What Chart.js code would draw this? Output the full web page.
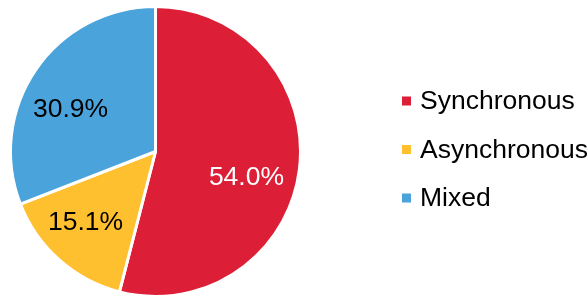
<!DOCTYPE html>
<html>
<head>
<meta charset="utf-8">
<script src="https://cdn.jsdelivr.net/npm/chart.js@4.4.1/dist/chart.umd.min.js"></script>
<style>
  html, body { margin: 0; padding: 0; background: #ffffff; }
  #wrap { width: 588px; height: 298px; position: relative; }
</style>
</head>
<body>
<div id="wrap"><canvas id="c" width="588" height="298"></canvas></div>
<script>
const categories = ['Synchronous', 'Asynchronous', 'Mixed'];
const shares = [54.0, 15.1, 30.9];
const sliceColors = ['#DC1F37', '#FEC02F', '#4BA3DB'];
const labelColors = ['#ffffff', '#000000', '#000000'];

const FONT = '"Liberation Sans", Arial, sans-serif';
const FS = 26.5;

const sliceLabels = {
  id: 'sliceLabels',
  afterDatasetsDraw(chart, args, opts) {
    const ctx = chart.ctx;
    const meta = chart.getDatasetMeta(0);
    ctx.save();
    ctx.font = FS + 'px ' + FONT;
    ctx.textAlign = 'center';
    ctx.textBaseline = 'alphabetic';
    meta.data.forEach((arc, i) => {
      const p = arc.getProps(['x', 'y', 'startAngle', 'endAngle', 'outerRadius'], true);
      const mid = (p.startAngle + p.endAngle) / 2;
      const r = p.outerRadius * opts.radiusFraction;
      const nudge = opts.nudges[i] || [0, 0];
      const x = p.x + Math.cos(mid) * r + nudge[0];
      const y = p.y + Math.sin(mid) * r + nudge[1];
      ctx.fillStyle = labelColors[i];
      ctx.fillText(shares[i].toFixed(1) + '%', x, y + 0.358 * FS);
    });
    ctx.restore();
  }
};

const sideLegend = {
  id: 'sideLegend',
  afterDraw(chart, args, opts) {
    const ctx = chart.ctx;
    ctx.save();
    ctx.font = FS + 'px ' + FONT;
    ctx.textAlign = 'left';
    ctx.textBaseline = 'alphabetic';
    categories.forEach((name, i) => {
      const cy = opts.top + i * opts.rowGap;
      ctx.fillStyle = sliceColors[i];
      ctx.fillRect(opts.boxX, cy - opts.box / 2 + 1, opts.box, opts.box);
      ctx.fillStyle = '#000000';
      ctx.fillText(name, opts.textX, cy + 0.358 * FS);
    });
    ctx.restore();
  }
};

new Chart(document.getElementById('c'), {
  type: 'pie',
  data: {
    labels: categories,
    datasets: [{
      data: shares,
      backgroundColor: sliceColors,
      borderColor: '#ffffff',
      borderWidth: 3,
      hoverOffset: 0
    }]
  },
  options: {
    responsive: false,
    animation: false,
    events: [],
    layout: { padding: { left: 9, right: 286, top: 5, bottom: 0 } },
    plugins: {
      legend: { display: false },
      tooltip: { enabled: false },
      sliceLabels: {
        radiusFraction: 0.66,
        nudges: [[-4, 12], [-6.5, -2.6], [-6, 10]]
      },
      sideLegend: { boxX: 402, box: 9, textX: 420, top: 100, rowGap: 48.5 }
    }
  },
  plugins: [sliceLabels, sideLegend]
});
</script>
</body>
</html>
